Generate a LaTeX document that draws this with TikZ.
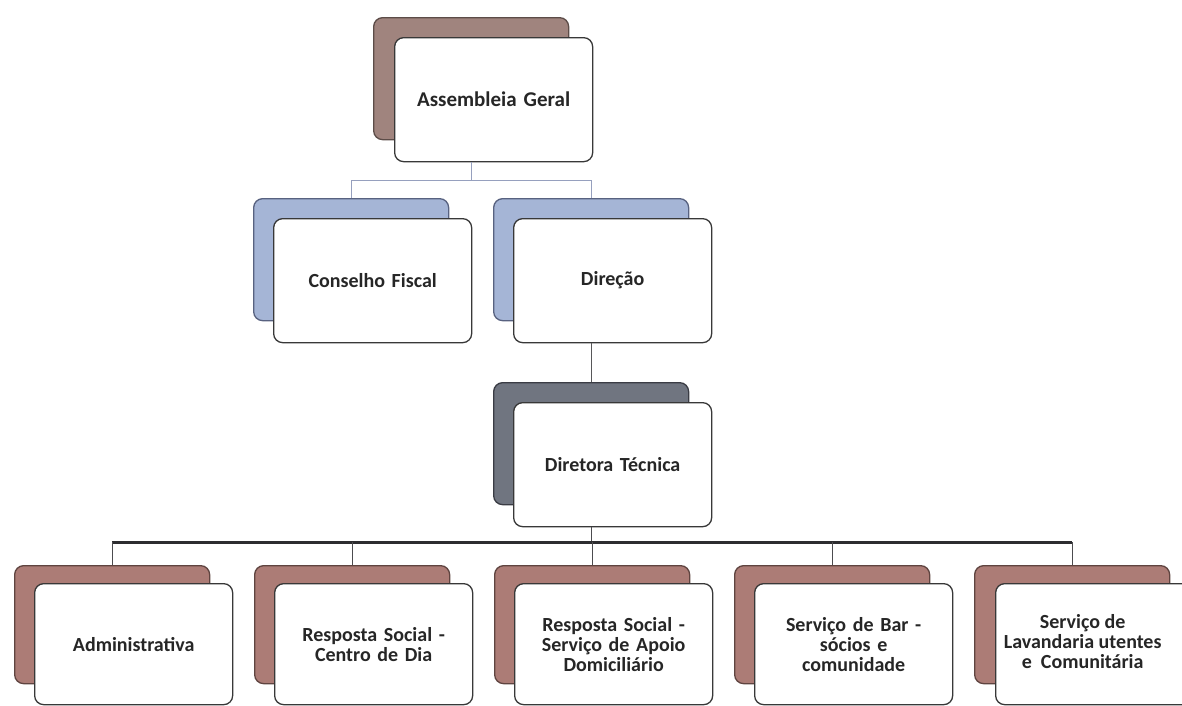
\documentclass[tikz,border=0pt]{standalone}
\usepackage{fontspec}
\setmainfont{Carlito}
\usetikzlibrary{calc}
\definecolor{brownF}{RGB}{172,124,118}
\definecolor{brownD}{RGB}{95,68,64}
\definecolor{asmF}{RGB}{160,132,126}
\definecolor{asmD}{RGB}{92,76,72}
\definecolor{blueF}{RGB}{165,181,214}
\definecolor{blueD}{RGB}{88,98,128}
\definecolor{grayF}{RGB}{112,117,128}
\definecolor{grayD}{RGB}{58,60,68}
\definecolor{lightconn}{RGB}{150,160,190}
\definecolor{darkconn}{RGB}{45,45,48}
\tikzset{
  x=1pt, y=-1pt,
  backbox/.style={draw=#1D, fill=#1F, rounded corners=9pt, line width=1.3pt,
    minimum width=195pt, minimum height=122pt, anchor=north west, inner sep=0pt},
  frontbase/.style={draw=black!78, fill=white, rounded corners=9pt, line width=1.3pt,
    minimum width=198pt, minimum height=124pt, anchor=north west,
    inner sep=0pt, text=black!85, font=\bfseries\fontsize{20}{20}\selectfont},
  frontbox/.style={frontbase, align=center, text width=194pt},
  lowback/.style={minimum height=118pt},
  lowfront/.style={minimum height=121pt},
  lconn/.style={draw=lightconn, line width=0.9pt},
  mconn/.style={draw=darkconn!80, line width=1pt},
  dconn/.style={draw=darkconn, line width=2.4pt},
  vconn/.style={draw=darkconn!85, line width=1.2pt},
}
\begin{document}
\begin{tikzpicture}
\useasboundingbox (0,0) rectangle (1182,705);
\clip (0,0) rectangle (1182,705);
\fill[white] (0,0) rectangle (1182,705);
% Assembleia
\node[backbox=asm] (aB) at (373,17) {};
\node[frontbox, font=\bfseries\fontsize{21}{21}\selectfont] (a) at (394,37) {Assembleia Geral};
% Conselho Fiscal
\node[backbox=blue] (cB) at (253,198) {};
\node[frontbox] (c) at (273,218) {Conselho Fiscal};
% Direcao
\node[backbox=blue] (dB) at (493,198) {};
\node[frontbox] (d) at (513,218) {Direção};
% Diretora Tecnica
\node[backbox=gray] (tB) at (493,382) {};
\node[frontbox] (t) at (513,402) {Diretora Técnica};
% bottom row
\node[backbox=brown, lowback] (b1B) at (14,565) {};
\node[frontbox, lowfront] (b1) at (34,583) {Administrativa};
\node[backbox=brown, lowback] (b2B) at (254,565) {};
\node[frontbox, lowfront] (b2) at (274,583) {Resposta Social -\\Centro de Dia};
\node[backbox=brown, lowback] (b3B) at (494,565) {};
\node[frontbox, lowfront] (b3) at (514,583) {Resposta Social -\\Serviço de Apoio\\Domiciliário};
\node[backbox=brown, lowback] (b4B) at (734,565) {};
\node[frontbox, lowfront] (b4) at (754,583) {Serviço de Bar -\\sócios e\\comunidade};
\node[backbox=brown, lowback] (b5B) at (974,565) {};
\node[frontbase, lowfront] (b5) at (995,583) {\begin{tabular}{@{}c@{}}Serviço de\\Lavandaria utentes\\e~ Comunitária\end{tabular}\hspace*{24pt}};
% connectors
\coordinate (aJ) at ($(aB.south |- a.south)+(0,18)$);
\draw[lconn] (aB.south |- a.south) -- (aJ);
\draw[lconn] (aJ) -| (cB.north);
\draw[lconn] (aJ) -| (dB.north);
\draw[mconn] (dB.south |- d.south) -- (tB.north);
\coordinate (tJ) at ($(tB.south |- t.south)+(0,15)$);
\draw[vconn] (tB.south |- t.south) -- (tJ);
\draw[dconn] (b1B.north |- tJ) -- (b5B.north |- tJ);
\foreach \n in {b1B,b2B,b3B,b4B,b5B}{
  \draw[vconn] (\n.north |- tJ) -- (\n.north);
}
\end{tikzpicture}
\end{document}
